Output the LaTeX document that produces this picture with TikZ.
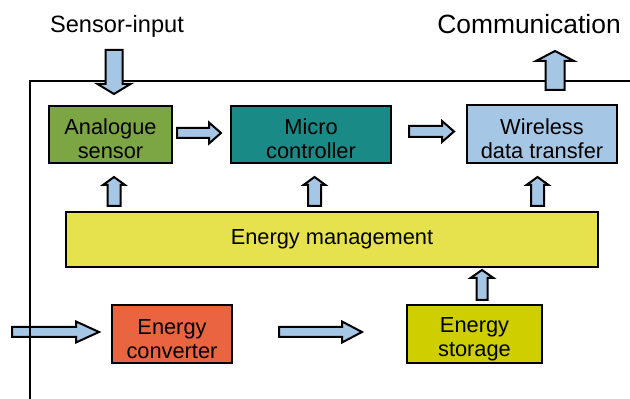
\documentclass[tikz,border=0pt]{standalone}
\usepackage{fontspec}
\setmainfont{Liberation Sans}
\usetikzlibrary{calc}
\definecolor{sensorgreen}{HTML}{7CA544}
\definecolor{microteal}{HTML}{1A8A86}
\definecolor{wirelessblue}{HTML}{A6C6E6}
\definecolor{mgmtyellow}{HTML}{E6E24E}
\definecolor{convred}{HTML}{EA6440}
\definecolor{storeolive}{HTML}{CFCF00}
\tikzset{
  box/.style={draw=black, line width=1pt, inner sep=0pt, align=center, font=\fontsize{10.9}{12}\selectfont},
  blockarrow/.style={draw=black, fill=wirelessblue, line width=1pt, line join=miter},
}
% tail, tip, half shaft, half head, head length
\newcommand\blockarrow[5]{%
  \coordinate (ba-h) at ($(#2)!#5!(#1)$);
  \draw[blockarrow] ($(#1)!#3!90:(#2)$) -- ($(ba-h)!#3!90:(#2)$) -- ($(ba-h)!#4!90:(#2)$) -- (#2)
    -- ($(ba-h)!#4!-90:(#2)$) -- ($(ba-h)!#3!-90:(#2)$) -- ($(#1)!#3!-90:(#2)$) -- cycle;}
\newcommand\lowstrut{\rule{0pt}{12.5pt}}
\begin{document}
\begin{tikzpicture}[x=0.5pt,y=-0.5pt]
  \useasboundingbox (0,0) rectangle (630,399);
  % boxes
  \node[box, fill=sensorgreen, minimum width=61.5pt, minimum height=28.5pt] (analog) at (110.5,134.5) {\lowstrut Analogue\\sensor};
  \node[box, fill=microteal, minimum width=80pt, minimum height=28.5pt] (micro) at (311,134.5) {\lowstrut Micro\\controller};
  \node[box, fill=wirelessblue, minimum width=75pt, minimum height=29pt] (wireless) at (542,134) {\lowstrut Wireless\\data transfer};
  \node[box, fill=mgmtyellow, minimum width=266pt, minimum height=27.5pt] (mgmt) at (332,239.5) {Energy management};
  \node[box, fill=convred, minimum width=60pt, minimum height=29pt] (converter) at (172,334) {\lowstrut Energy\\converter};
  \node[box, fill=storeolive, minimum width=67.5pt, minimum height=29pt] (storage) at (474.5,334) {\lowstrut Energy\\storage};
  % texts
  \node[font=\fontsize{11.8}{14}\selectfont] (sensorin) at (117,26) {Sensor-input};
  \node[font=\fontsize{13.2}{16}\selectfont] (comm) at (529,24) {Communication};
  % energy input
  \coordinate (ei-tip) at ($(converter.west)+(-12,-2)$);
  \coordinate (ei-tail) at ($(converter.west)+(-99,-2)$);
  \blockarrow{ei-tail}{ei-tip}{2.5pt}{5.25pt}{11.5pt}
  % frame
  \draw[line width=1pt] (30,399) -- (30,81) -- (630,81);
  % sensor input
  \coordinate (si-tip) at ($(analog.north)+(3.5,-11)$);
  \coordinate (si-tail) at ($(si-tip)+(0,-44)$);
  \blockarrow{si-tail}{si-tip}{4.25pt}{8.25pt}{5pt}
  % communication
  \coordinate (co-tail) at ($(wireless.north)+(13,-14)$);
  \coordinate (co-tip) at ($(wireless.north)+(13,-53)$);
  \blockarrow{co-tail}{co-tip}{4.75pt}{9.5pt}{5pt}
  % data flow
  \coordinate (am-tail) at ($(analog.east)+(4,-1.5)$);
  \coordinate (am-tip) at ($(micro.west)+(-9,-1.5)$);
  \blockarrow{am-tail}{am-tip}{2.5pt}{5.25pt}{6pt}
  \coordinate (mw-tail) at ($(micro.east)+(17,-3)$);
  \coordinate (mw-tip) at ($(wireless.west)+(-12,-2.5)$);
  \blockarrow{mw-tail}{mw-tip}{2.75pt}{5.25pt}{6pt}
  % energy supply
  \coordinate (ua-tip) at ($(analog.south)+(3.5,13)$);
  \coordinate (ua-tail) at ($(ua-tip|-mgmt.north)+(0,-5)$);
  \blockarrow{ua-tail}{ua-tip}{3.25pt}{5.5pt}{4pt}
  \coordinate (um-tip) at ($(micro.south)+(3.5,13)$);
  \coordinate (um-tail) at ($(um-tip|-mgmt.north)+(0,-5)$);
  \blockarrow{um-tail}{um-tip}{3.25pt}{5.5pt}{4pt}
  \coordinate (uw-tip) at ($(wireless.south)+(-4.5,13)$);
  \coordinate (uw-tail) at ($(uw-tip|-mgmt.north)+(0,-5)$);
  \blockarrow{uw-tail}{uw-tip}{3.25pt}{5.5pt}{4pt}
  \coordinate (cs-tail) at ($(converter.east)+(46,-2)$);
  \coordinate (cs-tip) at ($(storage.west)+(-44,-2)$);
  \blockarrow{cs-tail}{cs-tip}{2.5pt}{5.25pt}{10pt}
  \coordinate (sm-tail) at ($(storage.north)+(7.5,-4)$);
  \coordinate (sm-tip) at ($(storage.north)+(7.5,-34)$);
  \blockarrow{sm-tail}{sm-tip}{2.75pt}{5.75pt}{4pt}
\end{tikzpicture}
\end{document}
